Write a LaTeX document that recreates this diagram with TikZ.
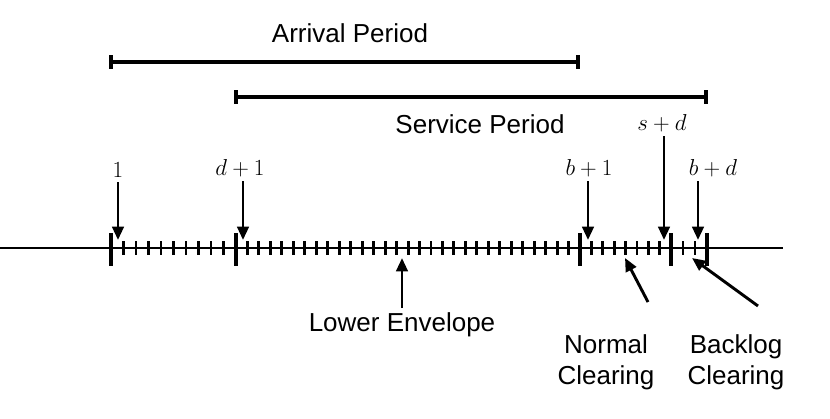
\documentclass[tikz,border=0pt]{standalone}
\usepackage{fontspec}
\setmainfont{Liberation Sans}
\usepackage{amsmath}
\usetikzlibrary{positioning,calc,arrows.meta}
\tikzset{
  figfont/.style={font=\fontsize{19.5}{23}\selectfont},
  figmath/.style={font=\fontsize{19}{23}\selectfont},
  figarrow/.style={-{Triangle[length=3.5mm,width=3mm]}, line width=2.2pt},
  figtick/.style={line width=2.2pt},
  figbigtick/.style={line width=3.5pt},
  figbar/.style={line width=2.4pt},
}
\begin{document}
\begin{tikzpicture}[figfont, x=0.75pt, y=-0.75pt]
  \useasboundingbox (0,0) rectangle (830,418);
  % Axis
  \coordinate (L) at (0,248);
  \coordinate (R) at (783,248);
  \draw[line width=2.2pt] (L) -- (R);
  % Small ticks
  \foreach \x in {1,...,9} \draw[figtick] (111+12.5*\x,241) -- (111+12.5*\x,255);
  \foreach \x in {1,...,29} \draw[figtick] (236+11.47*\x,241) -- (236+11.47*\x,255);
  \foreach \x in {1,...,7} \draw[figtick] (580+11.4*\x,241) -- (580+11.4*\x,255);
  \foreach \x in {1,2} \draw[figtick] (671+12*\x,241) -- (671+12*\x,255);
  % Big ticks
  \foreach \x/\n in {111/T1,236/Td,580/Tb,671/Ts,707/Tbd}
    \draw[figbigtick] (\x,233) coordinate (\n) -- (\x,266);

  % Period bars
  \draw[figbar] (111,55) -- (111,69) (111,62) -- (578,62) (578,55) -- (578,69);
  \draw[figbar] (236,90) -- (236,104) (236,97) -- (706,97) (706,90) -- (706,104);
  \node (arr) at (350,33) {Arrival Period};
  \node (srv) at (480,124) {Service Period};

  % Labels above the axis
  \node[figmath] (one) at (118,170) {$1$};
  \node[figmath] (dp1) at (240,168) {$d+1$};
  \node[figmath] (bp1) at (589,168) {$b+1$};
  \node[figmath] (bpd) at (713,168) {$b+d$};
  \node[figmath] (spd) at (662,123) {$s+d$};
  \coordinate (a1) at (118,240);
  \coordinate (a2) at (243,240);
  \coordinate (a3) at (588,240);
  \coordinate (a4) at (698,240);
  \coordinate (a5) at (664,240);
  \draw[figarrow] (one.south) -- (a1);
  \draw[figarrow] (dp1.south -| a2) -- (a2);
  \draw[figarrow] (bp1.south -| a3) -- (a3);
  \draw[figarrow] (bpd.south -| a4) -- (a4);
  \draw[figarrow] (spd.south -| a5) -- (a5);

  % Labels below the axis
  \node (low) at (402,325) {Lower Envelope};
  \node[align=center] (norm) at (606,362) {Normal\\Clearing};
  \node[align=center] (back) at (736,362) {Backlog\\Clearing};
  \draw[figarrow] (low.north) -- (402,258);
  \draw[figarrow] (648,302) -- (625,258);
  \draw[figarrow] (758,306) -- (692,258);
\end{tikzpicture}
\end{document}
